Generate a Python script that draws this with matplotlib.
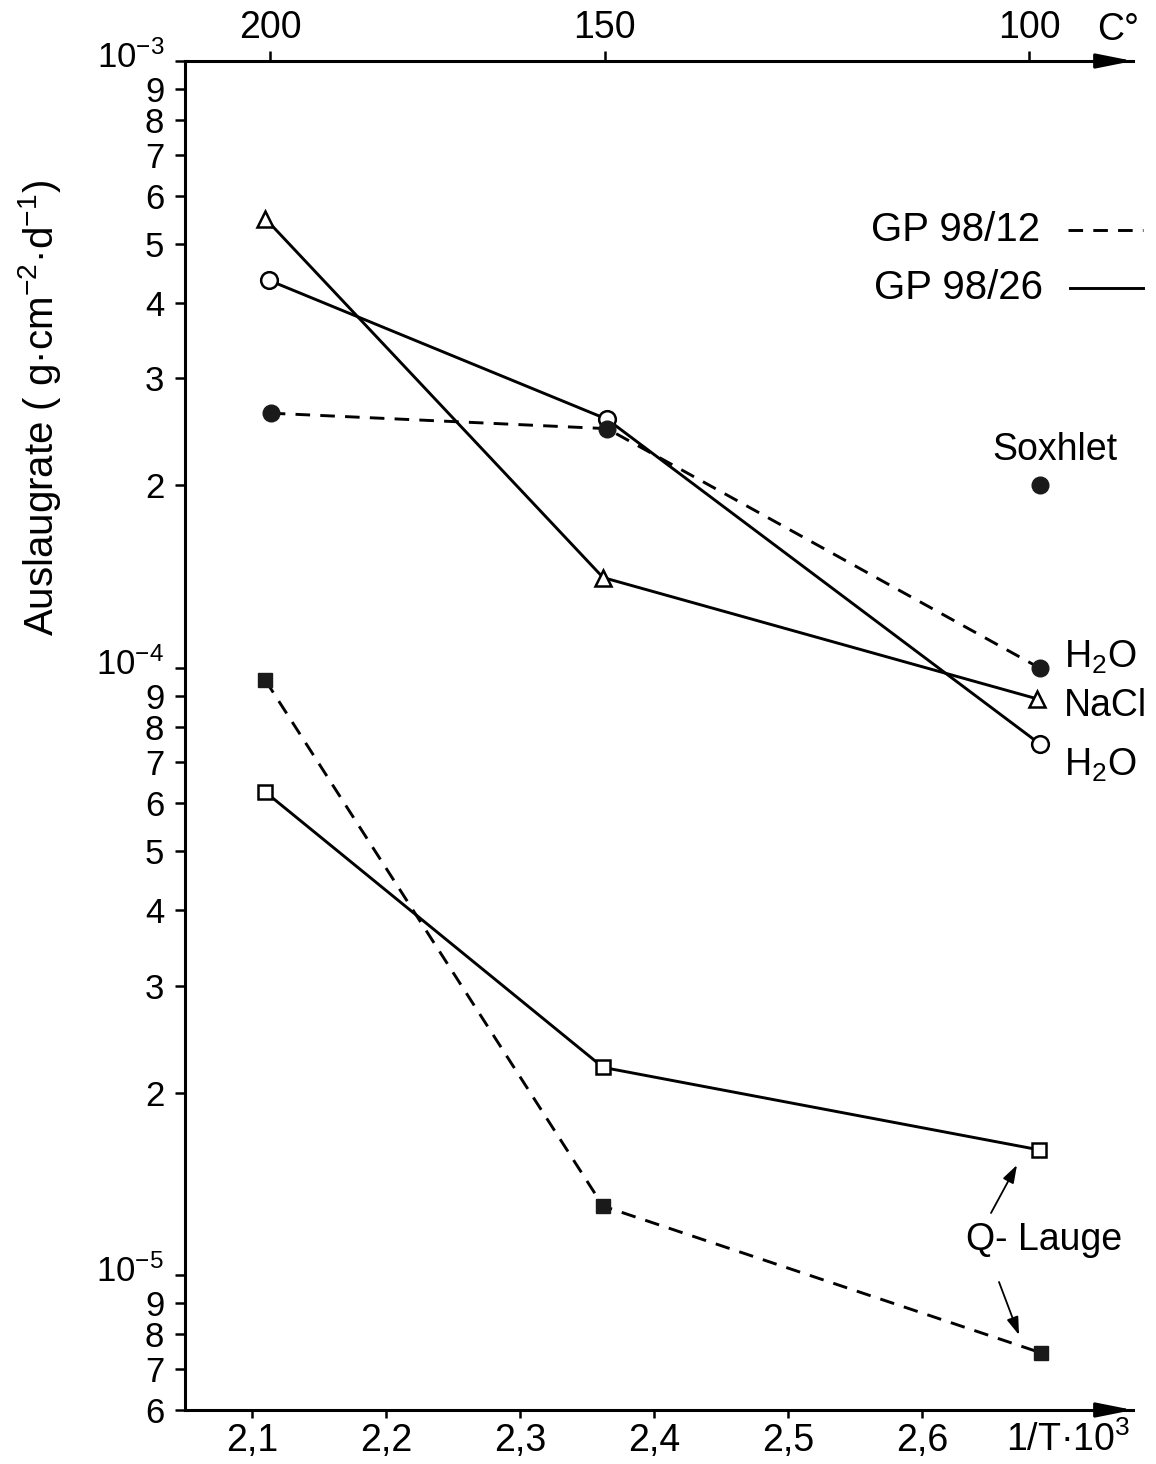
import matplotlib
matplotlib.use('Agg')
import matplotlib.pyplot as plt
import matplotlib.transforms as mtransforms
from matplotlib.ticker import FixedLocator, FixedFormatter, NullLocator

plt.rcParams['font.family'] = ['Liberation Sans', 'DejaVu Sans']
plt.rcParams['mathtext.fontset'] = 'custom'
plt.rcParams['mathtext.rm'] = 'Liberation Sans'
plt.rcParams['mathtext.it'] = 'Liberation Sans:italic'
plt.rcParams['mathtext.bf'] = 'Liberation Sans:bold'
plt.rcParams['mathtext.default'] = 'regular'

# ---------------- data ----------------
temps_c = [200, 150, 100]
top_labels = ['200', '150', '100']

x_ticks = [2.1, 2.2, 2.3, 2.4, 2.5, 2.6]
x_ticklabels = ['2,1', '2,2', '2,3', '2,4', '2,5', '2,6']

y_ticks = [1e-3, 9e-4, 8e-4, 7e-4, 6e-4, 5e-4, 4e-4, 3e-4, 2e-4,
           1e-4, 9e-5, 8e-5, 7e-5, 6e-5, 5e-5, 4e-5, 3e-5, 2e-5,
           1e-5, 9e-6, 8e-6, 7e-6, 6e-6]
y_ticklabels = [r'$10^{-3}$', '9', '8', '7', '6', '5', '4', '3', '2',
                r'$10^{-4}$', '9', '8', '7', '6', '5', '4', '3', '2',
                r'$10^{-5}$', '9', '8', '7', '6']

# GP 98/26 (solid lines)
nacl26_x = [2.110, 2.362, 2.686]
nacl26_y = [5.5e-4, 1.41e-4, 8.9e-5]
h2o26_x = [2.113, 2.365, 2.688]
h2o26_y = [4.35e-4, 2.57e-4, 7.5e-5]
q26_x = [2.110, 2.362, 2.687]
q26_y = [6.25e-5, 2.2e-5, 1.61e-5]

# GP 98/12 (dashed lines)
h2o12_x = [2.114, 2.365, 2.688]
h2o12_y = [2.63e-4, 2.48e-4, 1.0e-4]
q12_x = [2.110, 2.362, 2.689]
q12_y = [9.55e-5, 1.30e-5, 7.45e-6]

# Soxhlet (single point)
sox_x = [2.688]
sox_y = [2.0e-4]

# ---------------- figure ----------------
W, H = 1156, 1464
fig = plt.figure(figsize=(W / 100, H / 100), dpi=100)
ax = fig.add_axes([185 / W, 54 / H, 948 / W, 1349 / H])

def fx(px):
    return px / W

def fy(py):
    return 1 - py / H

LW = 2.1
DASH = (5, 3.5)
TSX = 27   # x tick label size
TSY = 25   # y tick label size
AS = 27    # annotation size

ax.plot(nacl26_x, nacl26_y, '-', color='k', lw=LW, marker='^', ms=11,
        mfc='white', mec='k', mew=1.8, zorder=3)
ax.plot(h2o26_x, h2o26_y, '-', color='k', lw=LW, marker='o', ms=12,
        mfc='white', mec='k', mew=1.8, zorder=3)
ax.plot(q26_x, q26_y, '-', color='k', lw=LW, marker='s', ms=10,
        mfc='white', mec='k', mew=1.8, zorder=3)
ax.plot(h2o12_x, h2o12_y, color='k', lw=LW, dashes=DASH, marker='o', ms=12,
        mfc='#1a1a1a', mec='#1a1a1a', zorder=4)
ax.plot(q12_x, q12_y, color='k', lw=LW, dashes=DASH, marker='s', ms=10,
        mfc='#1a1a1a', mec='#1a1a1a', zorder=4)
ax.plot(sox_x, sox_y, linestyle='none', marker='o', ms=12,
        mfc='#1a1a1a', mec='#1a1a1a', zorder=4)

ax.set_yscale('log')
ax.set_xlim(2.05, 2.05 + 948 / 1340)
ax.set_ylim(6e-6, 1e-3)

ax.yaxis.set_major_locator(FixedLocator(y_ticks))
ax.yaxis.set_major_formatter(FixedFormatter(y_ticklabels))
ax.yaxis.set_minor_locator(NullLocator())
ax.xaxis.set_major_locator(FixedLocator(x_ticks))
ax.xaxis.set_major_formatter(FixedFormatter(x_ticklabels))

ax.tick_params(axis='y', direction='out', length=7, width=1.8, pad=8,
               labelsize=TSY)
ax.tick_params(axis='x', direction='out', length=6, width=1.8, pad=3,
               labelsize=TSX)

for s in ['top', 'right']:
    ax.spines[s].set_visible(False)
for s in ['left', 'bottom']:
    ax.spines[s].set_linewidth(2.2)

# top temperature axis
ax2 = ax.twiny()
ax2.set_xlim(ax.get_xlim())
ax2.xaxis.set_major_locator(FixedLocator([1000.0 / (t + 273.15) for t in temps_c]))
ax2.xaxis.set_major_formatter(FixedFormatter(top_labels))
ax2.xaxis.set_minor_locator(NullLocator())
ax2.tick_params(axis='x', direction='out', length=7, width=1.8, pad=4,
                labelsize=TSX)
for s in ['left', 'right', 'bottom']:
    ax2.spines[s].set_visible(False)
ax2.spines['top'].set_linewidth(2.2)

# arrow heads on bottom and top axes
for yy in (0, 1):
    ax.annotate('', xy=(1.0, yy), xytext=(0.965, yy), xycoords='axes fraction',
                textcoords='axes fraction',
                arrowprops=dict(arrowstyle='-|>,head_length=1.1,head_width=0.22',
                                mutation_scale=20, lw=2.2, color='k',
                                shrinkA=0, shrinkB=0),
                annotation_clip=False)

# lift the decade labels so that "10" sits on its tick
fig.canvas.draw()
shift = mtransforms.ScaledTranslation(0, 5 / 72, fig.dpi_scale_trans)
for tick, lab in zip(ax.yaxis.get_major_ticks(), y_ticklabels):
    if lab.startswith('$10'):
        tick.label1.set_transform(tick.label1.get_transform() + shift)

# axis texts
fig.text(fx(1068), fy(1440), r'1/T·10$^3$', fontsize=TSX, ha='center', va='center')
fig.text(fx(1118), fy(30), 'C°', fontsize=TSX, ha='center', va='center')
fig.text(fx(40), fy(408), r'Auslaugrate ( g·cm$^{-2}$·d$^{-1}$)', rotation=90,
         fontsize=29, ha='center', va='center')

# legend
fig.text(fx(1040), fy(230), 'GP 98/12', fontsize=29, ha='right', va='center')
fig.text(fx(1043), fy(288), 'GP 98/26', fontsize=29, ha='right', va='center')
fig.add_artist(plt.Line2D([fx(1068), fx(1143)], [fy(230), fy(230)], color='k',
                          lw=LW, dashes=DASH))
fig.add_artist(plt.Line2D([fx(1070), fx(1143)], [fy(288), fy(288)], color='k',
                          lw=LW))

# point labels
fig.text(fx(1055), fy(450), 'Soxhlet', fontsize=AS, ha='center', va='center')
fig.text(fx(1064), fy(657), r'H$_2$O', fontsize=AS, ha='left', va='center')
fig.text(fx(1064), fy(706), 'NaCl', fontsize=AS, ha='left', va='center')
fig.text(fx(1064), fy(765), r'H$_2$O', fontsize=AS, ha='left', va='center')
fig.text(fx(1044), fy(1240), 'Q- Lauge', fontsize=AS, ha='center', va='center')

ap = dict(arrowstyle='-|>,head_length=0.6,head_width=0.2', mutation_scale=18,
          lw=1.3, color='k', shrinkA=0, shrinkB=0)
fig.add_artist(matplotlib.patches.FancyArrowPatch(
    (fx(991), fy(1213)), (fx(1017), fy(1165)), transform=fig.transFigure, **ap))
fig.add_artist(matplotlib.patches.FancyArrowPatch(
    (fx(999), fy(1282)), (fx(1019), fy(1335)), transform=fig.transFigure, **ap))

fig.savefig('out.png', dpi=100)
